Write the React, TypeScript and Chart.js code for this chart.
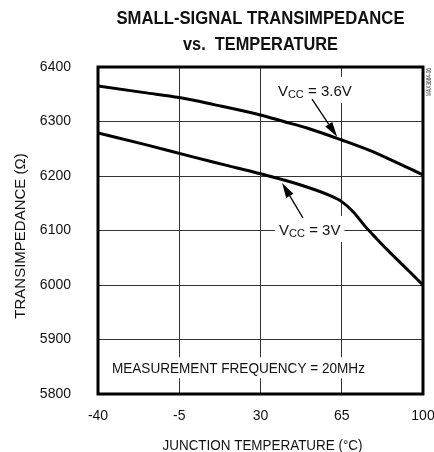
import React, { useEffect, useRef } from "react";
import { Chart, registerables } from "chart.js";

Chart.register(...registerables);

// ---- data ----
const X_TICKS = [-40, -5, 30, 65, 100];
const Y_TICKS = [5800, 5900, 6000, 6100, 6200, 6300, 6400];

const TEMP_36 = [-40, -20, -5, 10, 30, 40, 50, 65, 77, 85, 100];
const VCC_36 = [6365, 6353, 6344, 6331, 6312, 6300, 6288, 6266, 6247, 6232, 6202];

const TEMP_3 = [-40, -20, 0, 15, 30, 47, 60, 65, 70, 75, 80, 85, 90, 95, 100];
const VCC_3 = [6279, 6258, 6236, 6220, 6204, 6184, 6164, 6153, 6134, 6108, 6085, 6063, 6042, 6021, 6000];

const TITLE_LINES = ["SMALL-SIGNAL TRANSIMPEDANCE", "vs.  TEMPERATURE"];
const X_TITLE = "JUNCTION TEMPERATURE (°C)";
const Y_TITLE = "TRANSIMPEDANCE (Ω)";
const NOTE = "MEASUREMENT FREQUENCY = 20MHz";
const CODE = "MAX3664-06";

// annotation anchors (data units)
const LABEL_36 = { x: 37.5, y: 6347, text: " = 3.6V" };
const ARROW_36 = { from: [52.2, 6341], to: [63.0, 6272] };
const LABEL_3 = { x: 38.0, y: 6092, text: " = 3V" };
const ARROW_3 = { from: [48.3, 6123], to: [39.3, 6187] };
const NOTE_POS = { x: -34, y: 5838 };

const FONT = '"Liberation Sans", Arial, Helvetica, sans-serif';

function drawArrow(ctx: CanvasRenderingContext2D, x1: number, y1: number, x2: number, y2: number) {
  const ang = Math.atan2(y2 - y1, x2 - x1);
  const len = 15;
  const half = 4.2;
  const bx = x2 - Math.cos(ang) * len;
  const by = y2 - Math.sin(ang) * len;
  ctx.save();
  ctx.strokeStyle = "#000";
  ctx.fillStyle = "#000";
  ctx.lineWidth = 1.3;
  ctx.beginPath();
  ctx.moveTo(x1, y1);
  ctx.lineTo(bx, by);
  ctx.stroke();
  ctx.beginPath();
  ctx.moveTo(x2, y2);
  ctx.lineTo(bx + Math.sin(ang) * half, by - Math.cos(ang) * half);
  ctx.lineTo(bx - Math.sin(ang) * half, by + Math.cos(ang) * half);
  ctx.closePath();
  ctx.fill();
  ctx.restore();
}

function drawVccLabel(ctx: CanvasRenderingContext2D, x: number, y: number, rest: string) {
  ctx.save();
  ctx.fillStyle = "#111";
  ctx.textAlign = "left";
  ctx.textBaseline = "alphabetic";
  ctx.font = `15px ${FONT}`;
  const wV = ctx.measureText("V").width;
  ctx.font = `11px ${FONT}`;
  const wCC = ctx.measureText("CC").width;
  ctx.font = `15px ${FONT}`;
  const wR = ctx.measureText(rest).width;
  const total = wV + wCC + wR;
  ctx.fillStyle = "#fff";
  ctx.fillRect(x - 4, y - 19, total + 8, 26);
  ctx.fillStyle = "#111";
  ctx.font = `15px ${FONT}`;
  ctx.fillText("V", x, y);
  ctx.font = `11px ${FONT}`;
  ctx.fillText("CC", x + wV, y + 2.5);
  ctx.font = `15px ${FONT}`;
  ctx.fillText(rest, x + wV + wCC, y);
  ctx.restore();
}

const overlayPlugin = {
  id: "overlay",
  afterDraw(chart: any) {
    const { ctx, chartArea: a, scales } = chart;
    const xs = scales.x;
    const ys = scales.y;
    const px = (v: number) => xs.getPixelForValue(v);
    const py = (v: number) => ys.getPixelForValue(v);
    const cx = (a.left + a.right) / 2;

    // frame
    ctx.save();
    ctx.strokeStyle = "#000";
    ctx.lineWidth = 3;
    ctx.strokeRect(a.left, a.top, a.right - a.left, a.bottom - a.top);
    ctx.restore();

    // titles
    ctx.save();
    ctx.fillStyle = "#111";
    ctx.textAlign = "center";
    ctx.textBaseline = "alphabetic";
    ctx.font = `bold 18px ${FONT}`;
    ctx.fillText(TITLE_LINES[0], cx, 24, 288);
    ctx.fillText(TITLE_LINES[1], cx, 50, 155);

    // x title
    ctx.font = `15px ${FONT}`;
    ctx.fillText(X_TITLE, cx + 2, 450, 200);

    // y title
    ctx.save();
    ctx.translate(25, 236);
    ctx.rotate(-Math.PI / 2);
    ctx.fillText(Y_TITLE, 0, 0);
    ctx.restore();

    // code
    ctx.save();
    ctx.font = `7px ${FONT}`;
    ctx.fillStyle = "#333";
    ctx.translate(431, 82);
    ctx.rotate(-Math.PI / 2);
    ctx.fillText(CODE, 0, 0, 28);
    ctx.restore();

    // note
    ctx.textAlign = "left";
    ctx.font = `15px ${FONT}`;
    const nx = px(NOTE_POS.x);
    const ny = py(NOTE_POS.y);
    ctx.fillStyle = "#fff";
    ctx.fillRect(nx - 4, ny - 16, 261, 21);
    ctx.fillStyle = "#111";
    ctx.fillText(NOTE, nx, ny, 253);
    ctx.restore();

    // Vcc labels
    drawVccLabel(ctx, px(LABEL_36.x), py(LABEL_36.y), LABEL_36.text);
    drawVccLabel(ctx, px(LABEL_3.x), py(LABEL_3.y), LABEL_3.text);

    drawArrow(ctx, px(ARROW_36.from[0]), py(ARROW_36.from[1]), px(ARROW_36.to[0]), py(ARROW_36.to[1]));
    drawArrow(ctx, px(ARROW_3.from[0]), py(ARROW_3.from[1]), px(ARROW_3.to[0]), py(ARROW_3.to[1]));
  },
};

export default function App() {
  const ref = useRef<HTMLCanvasElement | null>(null);

  useEffect(() => {
    if (!ref.current) return;
    const chart = new Chart(ref.current, {
      type: "line",
      data: {
        datasets: [
          {
            label: "VCC = 3.6V",
            data: TEMP_36.map((t, i) => ({ x: t, y: VCC_36[i] })),
            borderColor: "#000",
            borderWidth: 3,
            pointRadius: 0,
            fill: false,
            cubicInterpolationMode: "monotone",
          },
          {
            label: "VCC = 3V",
            data: TEMP_3.map((t, i) => ({ x: t, y: VCC_3[i] })),
            borderColor: "#000",
            borderWidth: 3,
            pointRadius: 0,
            fill: false,
            cubicInterpolationMode: "monotone",
          },
        ],
      },
      options: {
        responsive: false,
        maintainAspectRatio: false,
        animation: false,
        events: [],
        layout: { padding: { top: 67, right: 11, left: 0, bottom: 0 } },
        plugins: {
          legend: { display: false },
          tooltip: { enabled: false },
          title: { display: false },
        },
        scales: {
          x: {
            type: "linear",
            min: X_TICKS[0],
            max: X_TICKS[X_TICKS.length - 1],
            afterBuildTicks: (s: any) => {
              s.ticks = X_TICKS.map((v) => ({ value: v }));
            },
            afterFit: (s: any) => {
              s.height = 58;
              s.paddingLeft = 0;
              s.paddingRight = 0;
            },
            grid: { color: "#333", lineWidth: 1, drawTicks: false },
            border: { display: false },
            ticks: {
              padding: 14,
              maxRotation: 0,
              autoSkip: false,
              color: "#111",
              font: { family: FONT, size: 14 },
              callback: (v: any) => String(v),
            },
          },
          y: {
            type: "linear",
            min: Y_TICKS[0],
            max: Y_TICKS[Y_TICKS.length - 1],
            afterBuildTicks: (s: any) => {
              s.ticks = Y_TICKS.map((v) => ({ value: v }));
            },
            afterFit: (s: any) => {
              s.width = 98;
              s.paddingTop = 0;
              s.paddingBottom = 0;
            },
            grid: { color: "#333", lineWidth: 1, drawTicks: false },
            border: { display: false },
            ticks: {
              padding: 27,
              autoSkip: false,
              color: "#111",
              font: { family: FONT, size: 14 },
              callback: (v: any) => String(v),
            },
          },
        },
      },
      plugins: [overlayPlugin],
    } as any);
    return () => chart.destroy();
  }, []);

  return (
    <div style={{ position: "fixed", left: 0, top: 0, width: 434, height: 452, background: "#fff" }}>
      <canvas ref={ref} width={434} height={452} style={{ display: "block", width: 434, height: 452 }} />
    </div>
  );
}
